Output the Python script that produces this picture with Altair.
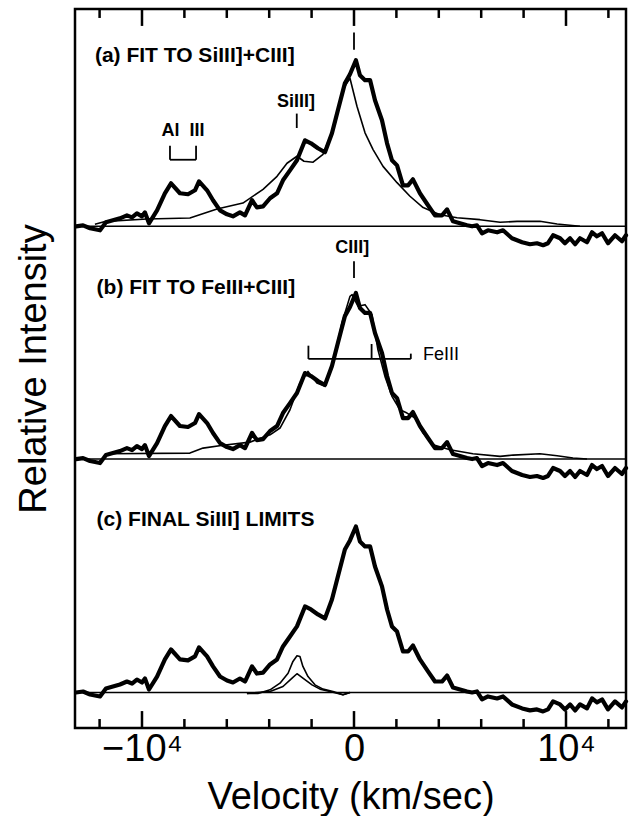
import altair as alt
import pandas as pd

# ---------------- data (velocity in km/s, intensity: C III] peak = 100) ----------------
vel_obs = [-13110, -12780, -12450, -11980, -11700, -11370, -11040, -10710, -10470, -10240,
           -10000, -9860, -9670, -9290, -8920, -8630, -8210, -7830, -7500, -7310,
           -6930, -6650, -6320, -5990, -5710, -5380, -5140, -4810, -4580, -4290,
           -3960, -3630, -3350, -3020, -2690, -2310, -2030, -1700, -1370, -1040,
           -760, -430, -190, 90, 280, 520, 760, 990, 1320, 1560,
           1790, 2030, 2310, 2550, 2780, 3110, 3490, 3820, 4150, 4390,
           4670, 5000, 5330, 5570, 5800, 6040, 6320, 6750, 7030, 7450,
           7930, 8300, 8630, 8920, 9150, 9390, 9720, 9950, 10190, 10430,
           10660, 10990, 11230, 11460, 11700, 11980, 12310, 12640, 12830]
int_obs = [0, 0.6, -1.2, -2.4, 2.4, 3.6, 4.8, 6.6, 5.4, 7.8,
           6.0, 8.4, 1.8, 9.6, 19.9, 25.9, 19.9, 19.3, 21.7, 27.1,
           21.7, 15.7, 9.6, 7.2, 6.0, 8.4, 6.6, 15.7, 11.4, 12.0,
           16.9, 19.9, 27.7, 33.7, 39.8, 51.8, 50.0, 47.0, 44.6, 56.0,
           69.9, 86.1, 91.6, 100, 91.0, 88.0, 88.0, 75.9, 63.9, 50.0,
           39.8, 36.7, 24.7, 24.7, 28.3, 19.9, 12.7, 6.6, 6.6, 10.2,
           3.0, 1.8, 0.6, 0, 0.6, -4.2, -2.4, -3.6, -2.4, -7.2,
           -9.6, -10.8, -10.2, -11.4, -10.2, -5.4, -7.2, -10.2, -7.2, -10.8,
           -7.2, -9.6, -3.6, -6.0, -4.2, -10.2, -5.4, -9.0, -5.4]

vel_fit_a = [-12220, -11700, -9760, -7740, -6460, -5240, -4290, -3630, -3160, -2690,
             -2360, -1930, -1460, -990, -520, -190, 140, 520, 900, 1370,
             2030, 2640, 3260, 4060, 4860, 5940, 6890, 7690, 8770, 9580, 10660]
int_fit_a = [1.2, 3.0, 4.4, 5.0, 10.4, 14.0, 22.3, 30.1, 38.0, 42.2,
             39.2, 38.6, 43.4, 58.4, 82.5, 89.2, 72.3, 56.3, 46.2, 36.1,
             26.3, 18.1, 11.3, 7.0, 5.2, 4.0, 2.4, 3.0, 3.0, 1.4, 0]

vel_fit_b = [-11650, -7740, -7120, -6180, -4910, -3960, -3490, -3020, -2550, -2170,
             -1750, -1370, -990, -570, -190, -90, 190, 520, 850, 1130,
             1460, 1790, 2170, 2500, 2880, 3260, 3730, 4530, 5610, 6890,
             7500, 8770, 9580, 10330, 10990]
int_fit_b = [3.2, 3.6, 6.6, 8.3, 10.2, 14.6, 18.7, 29.7, 45.8, 52.8,
             45.8, 43.8, 57.8, 81.9, 98.0, 99.0, 92.0, 93.0, 86.9, 65.8,
             49.8, 37.8, 29.7, 27.7, 24.7, 15.7, 8.6, 5.6, 3.2, 1.6,
             2.4, 3.2, 2.0, 0.6, 0]

vel_lim_hi = [-5050, -4530, -3960, -3490, -3110, -2880, -2690, -2550, -2410, -2170,
              -1840, -1460, -990, -520, -190]
int_lim_hi = [-0.6, -0.6, 1.6, 5.6, 11.6, 18.7, 22.1, 21.7, 15.7, 9.6,
              4.6, 2.0, 0.6, -1.4, 0]
vel_lim_lo = [-5050, -3960, -3350, -2920, -2690, -2410, -1980, -1600, -1130, -520, -190]
int_lim_lo = [-0.6, 0.6, 3.6, 8.6, 11.3, 8.6, 4.6, 2.0, 0.6, -1.4, 0]

panels = ["a", "b", "c"]
panel_offset = [302.2, 162.0, 21.4]

# annotation texts
bold_labels = ["(a) FIT TO SiIII]+CIII]", "(b) FIT TO FeIII+CIII]", "(c) FINAL SiIII] LIMITS"]
bold_label_v = [-12220, -12140, -12140]
bold_label_y = [404.6, 265.2, 125.1]

line_labels = ["Al\u00a0\u00a0III", "SiIII]", "CIII]"]
line_label_v = [-8070, -2740, -80]
line_label_y = [359.4, 377.3, 289.2]

fe_label = ["FeIII"]
fe_label_v = [3260]
fe_label_y = [224.9]

# annotation segments (v, v2, y, y2)
seg_v = [0, -2700, -8680, -8680, -7450, 0, -2150, -2150, 830, 2680]
seg_v2 = [0, -2700, -7450, -8680, -7450, 0, 2680, -2150, 830, 2680]
seg_y = [408.6, 361.4, 342.3, 342.3, 342.3, 271.1, 222.3, 222.3, 222.3, 222.3]
seg_y2 = [418.9, 370.1, 342.3, 350.8, 350.8, 281.1, 222.3, 230.3, 231.3, 225.5]

# frame ticks
tick_major = [-10000, 0, 10000]
tick_minor = [-12000, -8000, -6000, -4000, -2000, 2000, 4000, 6000, 8000, 12000]
x_tick_labels = {-10000: "−10⁴", 0: "0", 10000: "10⁴"}

YTOP = 433.1
XDOM = [-13160, 12830]

# ---------------- build tables ----------------
rows = []
for p, off in zip(panels, panel_offset):
    for v, i in zip(vel_obs, int_obs):
        rows.append({"v": v, "y": i + off, "s": "obs_" + p})
thick_df = pd.DataFrame(rows)

rows = []
for v, i in zip(vel_fit_a, int_fit_a):
    rows.append({"v": v, "y": i + panel_offset[0], "s": "fit_a"})
for v, i in zip(vel_fit_b, int_fit_b):
    rows.append({"v": v, "y": i + panel_offset[1], "s": "fit_b"})
for v, i in zip(vel_lim_hi, int_lim_hi):
    rows.append({"v": v, "y": i + panel_offset[2], "s": "lim_hi"})
for v, i in zip(vel_lim_lo, int_lim_lo):
    rows.append({"v": v, "y": i + panel_offset[2], "s": "lim_lo"})
thin_df = pd.DataFrame(rows)

base_df = pd.DataFrame({"y": panel_offset})

seg_df = pd.DataFrame({"v": seg_v, "v2": seg_v2, "y": seg_y, "y2": seg_y2})

tk = []
for t in tick_major:
    tk.append({"v": t, "y": 0, "y2": 10.2})
    tk.append({"v": t, "y": YTOP, "y2": YTOP - 10.2})
for t in tick_minor:
    tk.append({"v": t, "y": 0, "y2": 5.4})
    tk.append({"v": t, "y": YTOP, "y2": YTOP - 5.4})
tick_df = pd.DataFrame(tk)

FONT = "Liberation Sans"

xscale = alt.Scale(domain=XDOM, nice=False, zero=False)
yscale = alt.Scale(domain=[0, YTOP], nice=False, zero=False)

label_expr = ("datum.value == 0 ? '0' : (datum.value < 0 ? '%s' : '%s')"
              % (x_tick_labels[-10000], x_tick_labels[10000]))

xaxis = alt.Axis(values=tick_major, labelExpr=label_expr, ticks=False, tickSize=0,
                 domain=False, grid=False, labelFont=FONT, labelFontSize=38,
                 labelColor="black", labelPadding=2, labelFlush=False,
                 labelOverlap=False, title="Velocity (km/sec)", titleFont=FONT,
                 titleFontSize=38, titleFontWeight="normal", titleColor="black",
                 titlePadding=10)
yaxis = alt.Axis(labels=False, ticks=False, domain=False, grid=False,
                 title="Relative Intensity", titleFont=FONT, titleFontSize=38,
                 titleFontWeight="normal", titleColor="black", titlePadding=22)

X = alt.X("v:Q", scale=xscale, axis=xaxis)
Y = alt.Y("y:Q", scale=yscale, axis=yaxis)

baselines = alt.Chart(base_df).mark_rule(color="black", strokeWidth=1.6).encode(y=Y)

thin = alt.Chart(thin_df).mark_line(color="black", strokeWidth=1.6, strokeJoin="round").encode(
    x=X, y=Y, detail="s:N")

thick = alt.Chart(thick_df).mark_line(color="black", strokeWidth=4.2, strokeJoin="round",
                                      strokeCap="round").encode(x=X, y=Y, detail="s:N")

segs = alt.Chart(seg_df).mark_rule(color="black", strokeWidth=1.8).encode(
    x=X, x2="v2:Q", y=Y, y2="y2:Q")

ticks = alt.Chart(tick_df).mark_rule(color="black", strokeWidth=2.5).encode(
    x=X, y=Y, y2="y2:Q")

t_bold = alt.Chart(pd.DataFrame({"v": bold_label_v, "y": bold_label_y, "t": bold_labels})).mark_text(
    font=FONT, fontSize=21, fontWeight="bold", align="left", baseline="middle", color="black"
).encode(x=X, y=Y, text="t:N")

t_lines = alt.Chart(pd.DataFrame({"v": line_label_v, "y": line_label_y, "t": line_labels})).mark_text(
    font=FONT, fontSize=18, fontWeight="bold", align="center", baseline="middle", color="black"
).encode(x=X, y=Y, text="t:N")

t_fe = alt.Chart(pd.DataFrame({"v": fe_label_v, "y": fe_label_y, "t": fe_label})).mark_text(
    font=FONT, fontSize=18, fontWeight="normal", align="left", baseline="middle", color="black"
).encode(x=X, y=Y, text="t:N")

chart = alt.layer(baselines, thin, thick, segs, ticks, t_bold, t_lines, t_fe).properties(
    width=551, height=719,
    autosize=alt.AutoSizeParams(type="none"),
    padding={"left": 75, "top": 9, "right": 3, "bottom": 88},
    background="white",
).configure_view(stroke="black", strokeWidth=2.5)

chart.save("out.html", embed_options={"renderer": "svg", "actions": False})
